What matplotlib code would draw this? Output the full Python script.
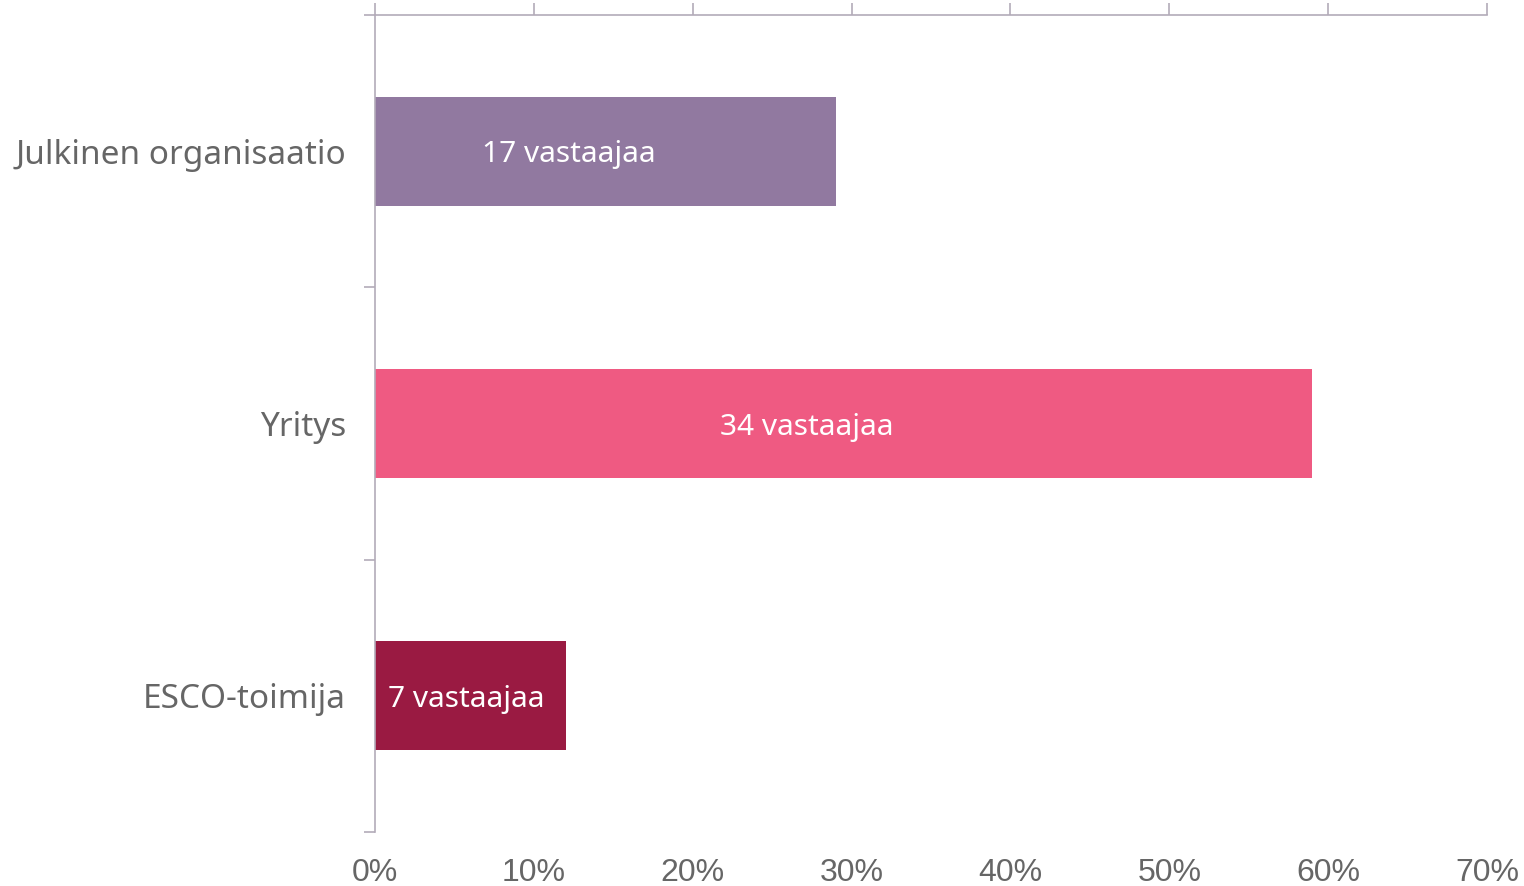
import matplotlib
matplotlib.use("Agg")
import matplotlib.pyplot as plt
from matplotlib.ticker import FuncFormatter

# survey respondents by organisation type
categories = ["Julkinen organisaatio", "Yritys", "ESCO-toimija"]
respondents = [17, 34, 7]
shares = [29.0, 59.0, 12.0]          # % of respondents
bar_labels = [f"{r} vastaajaa" for r in respondents]
colors = ["#9179a0", "#ef5a82", "#9a1a42"]
xticks = [0, 10, 20, 30, 40, 50, 60, 70]

AXIS_C = "#b3abb9"
TEXT_C = "#666666"

fig = plt.figure(figsize=(15.24, 8.86), dpi=100)
ax = fig.add_axes([375 / 1524, 1 - 832 / 886, (1487 - 375) / 1524, (832 - 15) / 886])

ypos = list(range(len(categories)))
ax.barh(ypos, shares, height=0.4, color=colors)

# labels sit a bit left of the bar middle; short bars get them left-aligned
for y, s, lab in zip(ypos, shares, bar_labels):
    if s < 20:
        x, ha = 0.8, "left"
    else:
        x, ha = s / 2 - 2.3, "center"
    ax.text(x, y, lab, ha=ha, va="center_baseline", color="white",
            fontsize=21.5, family="Noto Sans")

ax.set_ylim(len(categories) - 0.5, -0.5)
ax.set_xlim(0, 70)

ax.set_yticks([y - 0.5 for y in ypos] + [len(categories) - 0.5])
ax.set_yticklabels([])
ax.tick_params(axis="y", direction="out", length=8, color=AXIS_C, width=1.2)
for y, c in zip(ypos, categories):
    ax.text(-0.026, y, c, transform=ax.get_yaxis_transform(), ha="right",
            va="center_baseline", color=TEXT_C, fontsize=24, family="Noto Sans")

ax.set_xticks(xticks)
ax.xaxis.set_major_formatter(FuncFormatter(lambda v, p: f"{v:.0f}%"))
ax.tick_params(axis="x", top=True, bottom=False, labeltop=False, labelbottom=True,
               direction="out", length=9, color=AXIS_C, width=1.2, pad=10,
               labelsize=23, labelcolor=TEXT_C)
for lab in ax.get_xticklabels():
    lab.set_family("Liberation Sans")

for side in ("right", "bottom"):
    ax.spines[side].set_visible(False)
for side in ("left", "top"):
    ax.spines[side].set_color(AXIS_C)
    ax.spines[side].set_linewidth(1.2)

fig.savefig("out.png", dpi=100, facecolor="white")
